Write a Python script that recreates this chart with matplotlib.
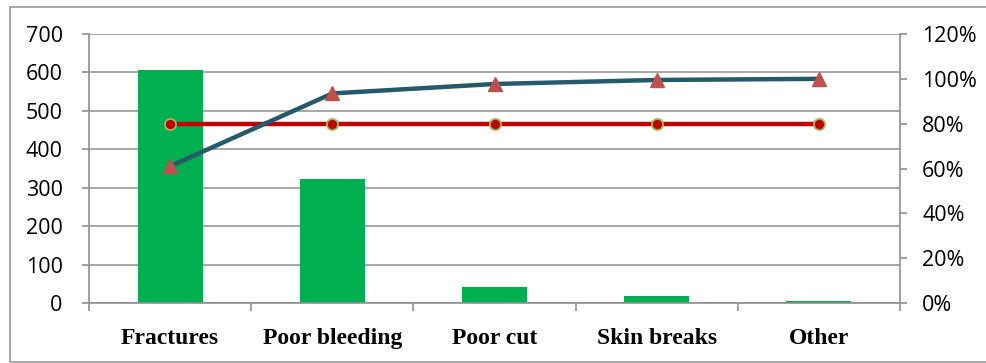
import matplotlib.pyplot as plt
from matplotlib.patches import Rectangle
from matplotlib.ticker import FuncFormatter

categories = ['Fractures', 'Poor bleeding', 'Poor cut', 'Skin breaks', 'Other']
counts = [607, 323, 42, 18, 5]
cum_pct = [61.0, 93.5, 97.7, 99.5, 100.0]
target_pct = [80, 80, 80, 80, 80]

fig = plt.figure(figsize=(9.86, 3.63), dpi=100)
ax = fig.add_axes([0.0903, 0.1653, 0.8225, 0.741])

# outer frame
fig.patches.append(Rectangle((10 / 986, 1 / 363), 1.0, 355 / 363, transform=fig.transFigure,
                             fill=False, edgecolor='#999999', linewidth=1.2))

x = list(range(len(categories)))
ax.bar(x, counts, width=0.4, color='#00B050', zorder=2)
ax.set_xlim(-0.5, 4.5)
ax.set_ylim(0, 700)
ax.set_yticks(range(0, 701, 100))
ax.grid(axis='y', color='#A0A0A0', linewidth=1.3, zorder=0)
ax.set_xticks(x)
ax.set_xticklabels(categories, fontfamily='Liberation Serif', fontweight='bold', fontsize=17)
ax.set_xticks([i + 0.5 for i in range(-1, 5)], minor=True)
ax.tick_params(axis='x', which='major', length=0, pad=18)
ax.tick_params(axis='x', which='minor', length=6, color='#909090', width=1.2)
ax.tick_params(axis='y', length=5, color='#909090', width=1.2, labelsize=15.5, pad=14)
for lbl in ax.get_yticklabels():
    lbl.set_fontfamily('Open Sans')
for s in ['top', 'right']:
    ax.spines[s].set_visible(False)
for s in ['left', 'bottom']:
    ax.spines[s].set_color('#909090')
    ax.spines[s].set_linewidth(1.2)

ax2 = ax.twinx()
ax2.set_ylim(0, 120)
ax2.set_yticks(range(0, 121, 20))
ax2.yaxis.set_major_formatter(FuncFormatter(lambda v, p: f'{int(v)}%'))
ax2.tick_params(axis='y', length=5, color='#909090', width=1.2, labelsize=15.5, pad=11)
for lbl in ax2.get_yticklabels():
    lbl.set_fontfamily('Open Sans')
for s in ['top', 'left', 'bottom']:
    ax2.spines[s].set_visible(False)
ax2.spines['right'].set_color('#909090')
ax2.spines['right'].set_linewidth(1.2)

ax2.plot(x, target_pct, color='#C00000', linewidth=3.2, marker='o', markersize=8,
         markerfacecolor='#C00000', markeredgecolor='#9BBB59', markeredgewidth=1.3, zorder=3)
ax2.plot(x, cum_pct, color='#245A6B', linewidth=3.2, marker='^', markersize=10,
         markerfacecolor='#C0504D', markeredgecolor='#C0504D', zorder=4)

fig.savefig('out.png', dpi=100)
